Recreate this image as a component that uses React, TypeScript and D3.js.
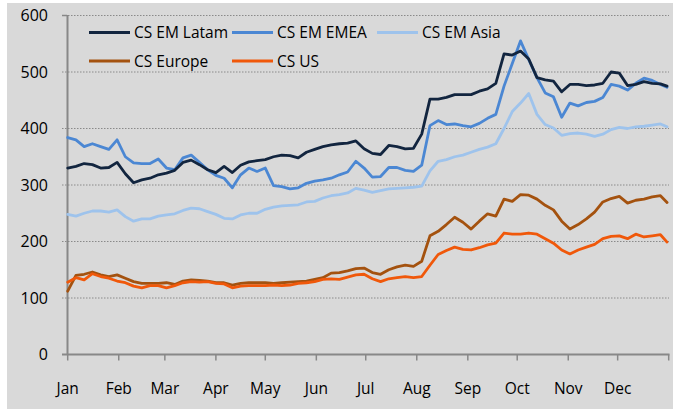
import React from "react";
import * as d3 from "d3";

const days = [0,5,10,15,20,25,30,35,40,45,50,55,60,65,70,75,80,85,90,95,100,105,110,115,120,125,130,135,140,145,150,155,160,165,170,175,180,185,190,195,200,205,210,215,220,225,230,235,240,245,250,255,260,265,270,275,280,285,290,295,300,305,310,315,320,325,330,335,340,345,350,355,360,364];

const latam = [330,333,338,336,330,331,340,320,304,309,312,318,321,326,340,344,336,327,322,333,322,335,341,343,345,350,353,352,348,358,363,368,371,373,374,378,364,356,354,370,368,364,365,390,452,452,455,460,460,460,466,470,480,532,530,537,523,490,486,484,465,478,478,476,477,480,500,498,476,478,483,480,479,475];
const emea = [384,380,368,373,368,363,380,350,339,338,338,346,330,327,348,353,340,327,317,312,295,318,330,324,330,299,297,293,295,303,307,309,312,318,323,342,330,314,315,331,331,326,324,335,405,414,407,408,405,403,409,418,425,475,515,555,522,490,463,456,420,445,440,446,448,455,478,475,468,480,489,485,478,473];
const asia = [248,245,250,254,254,252,256,244,236,240,240,245,247,249,255,259,258,253,248,241,240,247,250,250,257,261,263,264,265,270,271,277,281,283,286,294,291,287,290,293,294,295,296,298,325,342,345,350,353,358,363,367,373,400,430,445,462,425,407,401,388,391,392,390,386,390,398,402,400,403,404,406,408,403];
const europe = [112,140,142,146,141,138,141,135,129,126,126,126,127,124,130,132,131,130,127,127,123,126,127,127,127,126,127,128,129,130,133,136,144,145,148,152,153,145,142,150,155,158,156,165,210,218,230,243,234,222,236,249,245,275,271,283,282,275,264,256,236,222,230,240,252,270,276,280,268,273,275,279,281,269];
const us = [128,136,132,143,138,135,130,127,121,118,122,122,118,122,127,129,128,129,126,125,118,121,122,122,122,123,122,123,126,127,129,133,134,133,137,141,142,134,129,134,136,138,136,138,158,177,184,190,186,185,189,194,197,215,213,213,215,213,205,197,185,178,185,190,195,205,209,210,205,213,208,210,212,199];

const monthLabels = ["Jan","Feb","Mar","Apr","May","Jun","Jul","Aug","Sep","Oct","Nov","Dec"];
const monthStarts = [0,31,59,90,120,151,181,212,243,273,304,334];
const yTicks = [0,100,200,300,400,500,600];

const seriesNames = ["CS EM Latam","CS EM EMEA","CS EM Asia","CS Europe","CS US"];
const seriesValues = [latam, emea, asia, europe, us];
const seriesColors = ["#12253f","#4b87d3","#9ec3ec","#a4520f","#f0580a"];

const W = 673, H = 410;
const FONT = "'Open Sans', 'Liberation Sans', sans-serif";

export default function App() {
  const x = d3.scaleLinear().domain([0, 365]).range([67.7, 668.7]);
  const y = d3.scaleLinear().domain([0, 600]).range([354.5, 15.5]);
  const line = d3.line<number>()
    .x((_, i) => x(days[i]))
    .y((v) => y(v))
    .curve(d3.curveLinear);

  const order = [3, 4, 2, 1, 0];

  const legendPos = [
    { lx: 89, ly: 32.5 },
    { lx: 232, ly: 32.5 },
    { lx: 377, ly: 32.5 },
    { lx: 89, ly: 61 },
    { lx: 232, ly: 61 },
  ];

  return (
    <svg width={W} height={H} style={{ position: "absolute", left: 0, top: 0, display: "block" }}
      fontFamily={FONT}>
      <rect x={0} y={0} width={W} height={H} fill="#ffffff" />
      <rect x={7} y={3} width={W - 7} height={406} fill="#d9d9d9" />
      {yTicks.filter((t) => t > 0).map((t) => (
        <line key={t} x1={62} x2={669} y1={y(t)} y2={y(t)} stroke="#8a8a8a" strokeWidth={1} strokeDasharray="1.5,1.5" />
      ))}
      {yTicks.map((t) => (
        <text key={t} x={48} y={y(t)} dy="0.36em" textAnchor="end" fontSize={16} fill="#000">{t}</text>
      ))}
      <line x1={67.5} x2={67.5} y1={15} y2={355} stroke="#888" strokeWidth={2} />
      <line x1={62} x2={669.5} y1={354.5} y2={354.5} stroke="#888" strokeWidth={2} />
      <line x1={62} x2={67} y1={y(600)} y2={y(600)} stroke="#888" strokeWidth={1.5} />
      {monthStarts.concat([365]).map((d) => (
        <line key={d} x1={x(d)} x2={x(d)} y1={354.5} y2={360.5} stroke="#888" strokeWidth={1.5} />
      ))}
      {monthLabels.map((m, i) => (
        <text key={m} x={x(monthStarts[i])} y={394} textAnchor="middle" fontSize={15.5} fill="#000">{m}</text>
      ))}
      {order.map((si) => (
        <path key={si} d={line(seriesValues[si]) || ""} fill="none" stroke={seriesColors[si]}
          strokeWidth={2.8} strokeLinejoin="round" strokeLinecap="round" />
      ))}
      {seriesNames.map((n, i) => (
        <g key={n}>
          <line x1={legendPos[i].lx} x2={legendPos[i].lx + 41} y1={legendPos[i].ly} y2={legendPos[i].ly}
            stroke={seriesColors[i]} strokeWidth={2.8} />
          <text x={legendPos[i].lx + 45} y={legendPos[i].ly} dy="0.36em" fontSize={15.5} fill="#000">{n}</text>
        </g>
      ))}
    </svg>
  );
}
